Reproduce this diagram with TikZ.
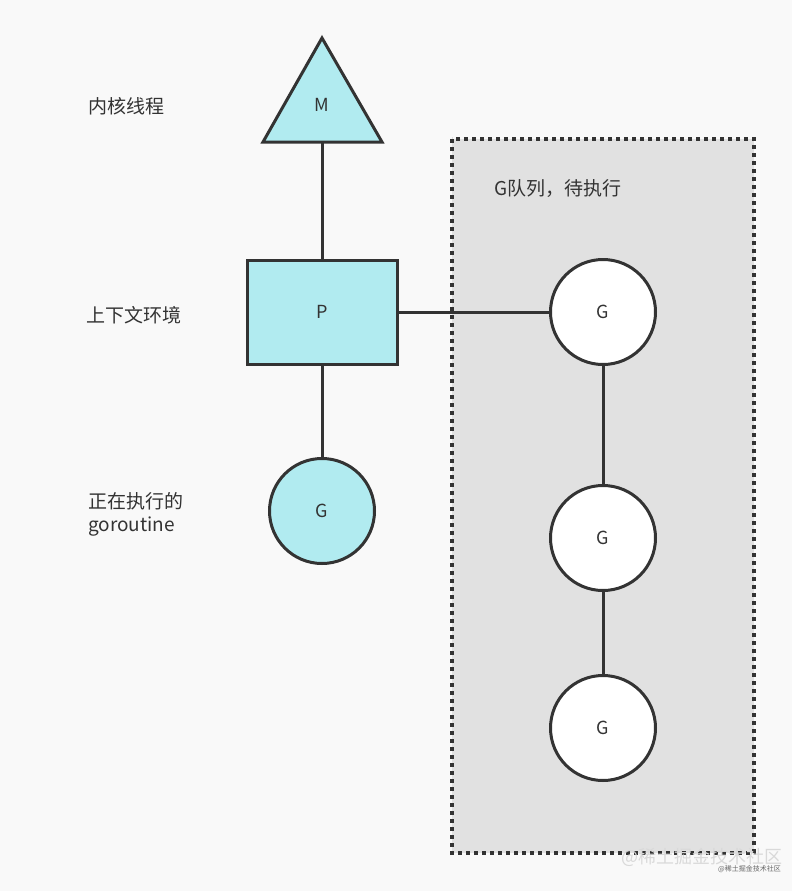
\documentclass[tikz,border=0pt]{standalone}
\usepackage{fontspec}
\setmainfont{Noto Sans CJK SC}
\usetikzlibrary{shapes.geometric}
\definecolor{bg}{HTML}{F9F9F9}
\definecolor{qbg}{HTML}{E1E1E1}
\definecolor{cy}{HTML}{B1EBF0}
\definecolor{ln}{HTML}{333333}
\definecolor{tx}{HTML}{333333}
\tikzset{
  px/.style={x=1pt,y=-1pt},
  edge/.style={draw=ln,line width=3pt},
  gnode/.style={circle,draw=ln,line width=3pt,minimum size=105pt,inner sep=0pt,text=tx,font=\fontsize{18}{20}\selectfont},
  pbox/.style={rectangle,draw=ln,line width=3pt,fill=cy,minimum width=150pt,minimum height=104pt,inner sep=0pt,text=tx,font=\fontsize{18}{20}\selectfont},
  lbl/.style={text=tx,font=\fontsize{19}{23}\selectfont,inner sep=0pt}
}
\begin{document}
\begin{tikzpicture}[px]
\fill[bg] (0,0) rectangle (792,891);
\useasboundingbox (0,0) rectangle (792,891);
% queue box
\draw[fill=qbg,draw=ln,line width=3.2pt,dash pattern=on 4pt off 4pt] (452,139) rectangle (754,853);
\node[lbl,anchor=west] (ql) at (494,189) {G队列，待执行};
% triangle M
\coordinate (mt) at (322,38);
\coordinate (ml) at (263,142);
\coordinate (mr) at (382,142);
\coordinate (mb) at (322,142);
\draw[fill=cy,draw=ln,line width=3pt,line join=miter] (mt) -- (mr) -- (ml) -- cycle;
\node[text=tx,font=\fontsize{18}{20}\selectfont] (M) at (322,105) {M};
% P
\node[pbox] (P) at (322,312) {P};
% G running
\node[gnode,fill=cy] (G0) at (322,511) {G};
% queue Gs
\node[gnode,fill=white] (G1) at (603,312) {G};
\node[gnode,fill=white] (G2) at (603,538) {G};
\node[gnode,fill=white] (G3) at (603,728) {G};
% edges
\draw[edge] (mb) -- (P.north);
\draw[edge] (P.south) -- (G0.north);
\draw[edge] (P.east) -- (G1.west);
\draw[edge] (G1.south) -- (G2.north);
\draw[edge] (G2.south) -- (G3.north);
% labels
\node[lbl,anchor=west] (l1) at (88,106) {内核线程};
\node[lbl,anchor=west] (l2) at (86,315) {上下文环境};
\node[lbl,anchor=west,align=left] (l3) at (88,514) {正在执行的\\goroutine};
% watermark
\node[text=white!70!gray,font=\fontsize{18}{20}\selectfont,anchor=west,inner sep=0pt] (wm) at (621,857) {@稀土掘金技术社区};
\node[text=gray!80!black,font=\fontsize{7}{8}\selectfont,anchor=west,inner sep=0pt] (wm2) at (718,869) {@稀土掘金技术社区};
\end{tikzpicture}
\end{document}
